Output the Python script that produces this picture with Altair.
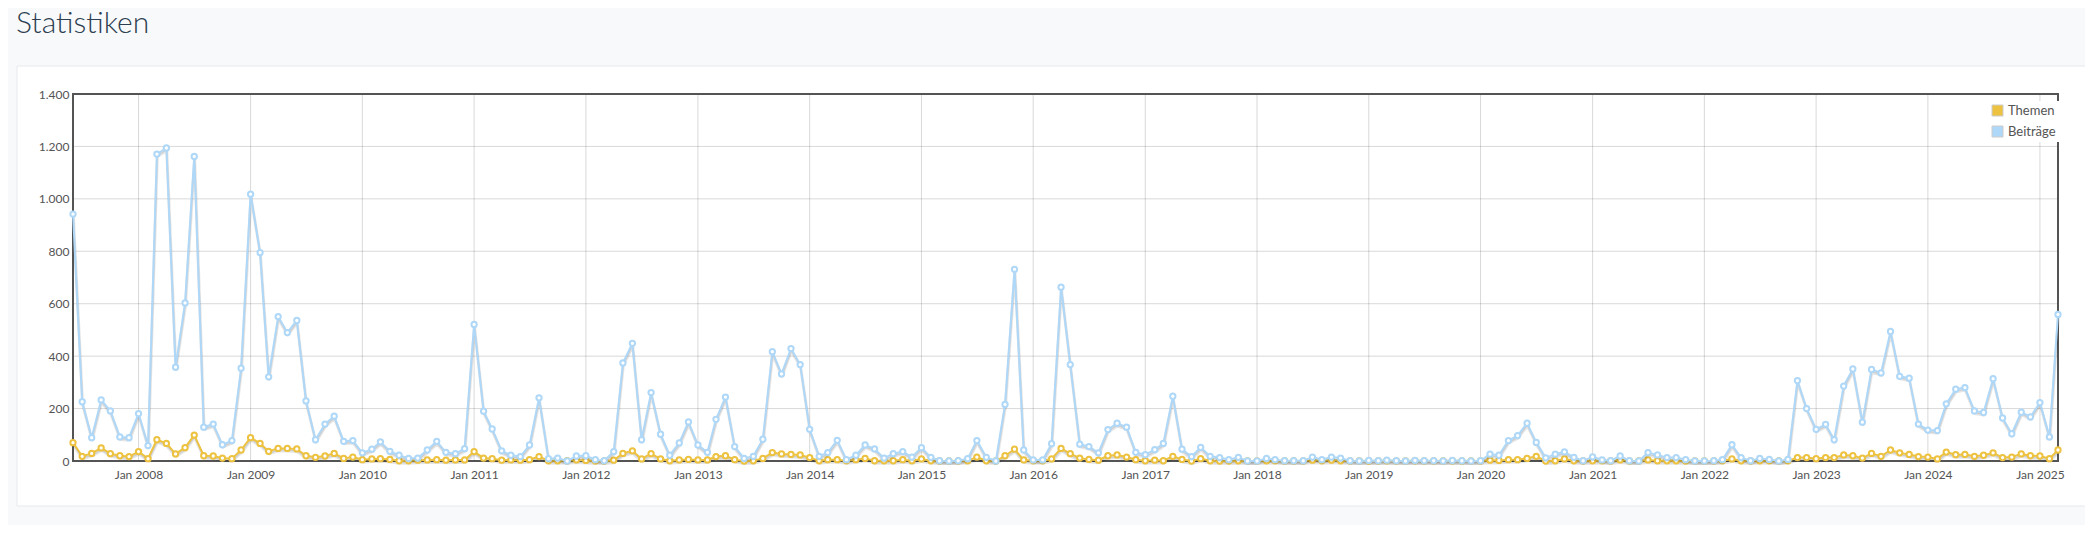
import altair as alt
import pandas as pd

# ---------------- data ----------------
TITLE = ["Statistiken"]
SERIES = ["Themen", "Beiträge"]
COLORS = ["#edc240", "#afd8f8"]
FIRST_MONTH = "2007-06-01"
LAST_MONTH = "2025-03-01"

# monthly counts, Jun 2007 .. Mar 2025 (one row per year)
THEMEN = [
    70, 18, 29, 50, 28, 20, 17,                      # 2007 (Jun-Dec)
    36, 9, 81, 67, 27, 51, 99, 20, 19, 11, 9, 42,    # 2008
    89, 67, 37, 48, 48, 46, 20, 14, 19, 29, 10, 15,  # 2009
    5, 8, 9, 6, 1, 1, 3, 4, 5, 3, 4, 4,              # 2010
    36, 11, 9, 3, 4, 3, 5, 17, 1, 1, 1, 4,           # 2011
    2, 0, 0, 3, 29, 39, 8, 28, 8, 1, 4, 6,           # 2012
    4, 4, 17, 20, 5, 0, 1, 10, 32, 27, 25, 23,       # 2013
    13, 1, 5, 5, 1, 5, 10, 1, 1, 1, 5, 1,            # 2014
    8, 1, 0, 0, 0, 1, 15, 1, 0, 20, 45, 4,           # 2015
    1, 1, 8, 48, 28, 11, 6, 3, 20, 23, 15, 5,        # 2016
    1, 3, 1, 18, 6, 0, 9, 1, 0, 0, 1, 0,             # 2017
    0, 1, 1, 0, 0, 0, 3, 1, 3, 1, 0, 0,              # 2018
    0, 0, 1, 0, 0, 1, 0, 0, 0, 1, 0, 0,              # 2019
    0, 3, 2, 5, 5, 10, 18, 0, 1, 8, 1, 0,            # 2020
    1, 1, 0, 4, 0, 0, 4, 1, 1, 1, 0, 0,              # 2021
    0, 0, 1, 8, 1, 0, 1, 1, 0, 1, 13, 13,            # 2022
    9, 13, 13, 23, 20, 11, 29, 18, 42, 31, 25, 17,   # 2023
    15, 8, 34, 24, 25, 18, 22, 31, 13, 15, 27, 20,   # 2024
    19, 9, 42,                                       # 2025 (Jan-Mar)
]

BEITRAEGE = [
    942, 226, 89, 233, 191, 92, 89,                          # 2007 (Jun-Dec)
    181, 59, 1171, 1194, 358, 603, 1162, 129, 141, 62, 78, 354,  # 2008
    1018, 795, 321, 551, 490, 536, 229, 81, 141, 171, 75, 78,    # 2009
    31, 45, 73, 37, 22, 10, 11, 42, 75, 33, 28, 47,          # 2010
    521, 190, 122, 39, 22, 17, 61, 241, 9, 11, 0, 19,        # 2011
    20, 5, 1, 36, 374, 449, 81, 261, 102, 22, 69, 149,       # 2012
    61, 33, 159, 244, 55, 10, 18, 83, 417, 332, 429, 368,    # 2013
    121, 18, 32, 79, 5, 22, 61, 46, 11, 28, 36, 15,          # 2014
    51, 14, 1, 0, 1, 9, 78, 14, 0, 216, 731, 42,             # 2015
    4, 4, 66, 663, 368, 64, 55, 31, 120, 144, 129, 33,       # 2016
    24, 43, 67, 247, 45, 17, 52, 18, 13, 5, 14, 0,           # 2017
    0, 10, 5, 1, 1, 1, 15, 5, 15, 11, 1, 0,                  # 2018
    2, 1, 3, 1, 0, 2, 1, 1, 0, 2, 1, 0,                      # 2019
    1, 26, 22, 78, 97, 144, 71, 12, 26, 35, 14, 1,           # 2020
    16, 4, 1, 19, 1, 0, 32, 23, 13, 13, 5, 0,                # 2021
    0, 1, 5, 62, 13, 1, 10, 6, 0, 6, 307, 200,               # 2022
    121, 140, 81, 286, 351, 148, 349, 336, 494, 323, 316, 141,  # 2023
    118, 116, 218, 274, 280, 191, 185, 314, 164, 104, 186, 168,  # 2024
    223, 92, 559,                                            # 2025 (Jan-Mar)
]

Y_TICKS = [0, 200, 400, 600, 800, 1000, 1200, 1400]
YEAR_TICKS = list(range(2008, 2026))

# ---------------- tables ----------------
months = list(pd.date_range(FIRST_MONTH, LAST_MONTH, freq="MS").strftime("%Y-%m-%d"))
n = len(months)
assert n == len(THEMEN) == len(BEITRAEGE)
df = pd.DataFrame({
    "date": months * 2,
    "series": [SERIES[0]] * n + [SERIES[1]] * n,
    "value": THEMEN + BEITRAEGE,
})
df_years = pd.DataFrame({"date": [f"{y}-01-01" for y in YEAR_TICKS]})
df_yticks = pd.DataFrame({"value": Y_TICKS})

# ---------------- style ----------------
FONT = "Lato"
LABEL_COLOR = "#545454"
W, H = 1985, 367

x_scale = alt.Scale(
    type="utc",
    domain=[alt.DateTime(year=2007, month=6, date=1, utc=True),
            alt.DateTime(year=2025, month=3, date=1, utc=True)],
    nice=False,
)
x_axis = alt.Axis(
    values=[alt.DateTime(year=y, month=1, date=1, utc=True) for y in YEAR_TICKS],
    labelExpr="utcFormat(datum.value, '%b %Y')",
    grid=False, domain=False, ticks=False, tickSize=0,
    labelPadding=8, labelFlush=False, labelOverlap=False,
    labelFont=FONT, labelFontSize=12, labelColor=LABEL_COLOR,
    title=None, zindex=1,
)
y_scale = alt.Scale(domain=[0, 1400], nice=False, zero=True)
y_axis = alt.Axis(
    values=Y_TICKS,
    labelExpr="replace(format(datum.value, ','), ',', '.')",
    grid=False, domain=False, ticks=False, tickSize=0,
    labelPadding=4, labelFlush=False,
    labelFont=FONT, labelFontSize=12, labelColor=LABEL_COLOR,
    title=None, zindex=1,
)

X = alt.X("date:T", scale=x_scale, axis=x_axis)
Y = alt.Y("value:Q", scale=y_scale, axis=y_axis)

base = alt.Chart(df)

# card behind the plot
card = alt.Chart(pd.DataFrame({"k": [0]})).mark_rect(
    fill="#ffffff", stroke="#e6e9ee", strokeWidth=1
).encode(x=alt.value(-56), x2=alt.value(2013), y=alt.value(-28), y2=alt.value(412))

ygrid = alt.Chart(df_yticks).mark_rule(color="#545454", opacity=0.22, strokeWidth=1).encode(y=Y)
xgrid = alt.Chart(df_years).mark_rule(color="#545454", opacity=0.22, strokeWidth=1).encode(x=X)

frame = alt.Chart(pd.DataFrame({"k": [0]})).mark_rect(
    fillOpacity=0, stroke="#545454", strokeWidth=2
).encode(x=alt.value(0), x2=alt.value("width"), y=alt.value(0), y2=alt.value("height"))


def series_layers(name, color):
    sub = base.transform_filter(alt.datum.series == name)
    sh1 = sub.mark_line(color="#000000", opacity=0.1, strokeWidth=3, xOffset=0.4,
                        yOffset=2.5, strokeJoin="round").encode(x=X, y=Y)
    sh2 = sub.mark_line(color="#000000", opacity=0.1, strokeWidth=1.5, xOffset=0.3,
                        yOffset=1.7, strokeJoin="round").encode(x=X, y=Y)
    line = sub.mark_line(color=color, strokeWidth=2, strokeJoin="round").encode(x=X, y=Y)
    pts = sub.mark_point(shape="circle", fill="#ffffff", fillOpacity=1, opacity=1,
                         stroke=color, strokeWidth=2, size=28).encode(x=X, y=Y)
    return [sh1, sh2, line, pts]


title = alt.Chart(pd.DataFrame({"t": TITLE})).mark_text(
    align="left", baseline="alphabetic", font=FONT, fontSize=30, fontWeight=300,
    color="#2c3e50"
).encode(text="t:N", x=alt.value(-57), y=alt.value(-61))

# invisible marks that only carry the legend (fill channel)
legend_layer = alt.Chart(pd.DataFrame({"series": SERIES})).mark_square(
    size=121, opacity=0
).encode(
    fill=alt.Fill(
        "series:N",
        scale=alt.Scale(domain=SERIES, range=COLORS),
        legend=alt.Legend(
            title=None, orient="none", legendX=1915, legendY=7, direction="vertical",
            symbolType="square", symbolSize=121, symbolOpacity=1,
            symbolStrokeColor="#cccccc", symbolStrokeWidth=1,
            labelFont=FONT, labelFontSize=13, labelColor=LABEL_COLOR,
            rowPadding=6, padding=3, fillColor="#ffffff", labelOffset=4, zindex=1,
        ),
    )
)

chart = alt.layer(
    card, ygrid, xgrid, frame,
    *series_layers(SERIES[0], COLORS[0]),
    *series_layers(SERIES[1], COLORS[1]),
    title, legend_layer,
).properties(
    width=W, height=H,
    autosize=alt.AutoSizeParams(type="none"),
    padding={"left": 65, "top": 86, "right": 27, "bottom": 64},
).configure(
    background="#f8f9fa", font=FONT
).configure_view(
    stroke="transparent"
)

chart.save("out.html", embed_options={"renderer": "svg", "actions": False})
